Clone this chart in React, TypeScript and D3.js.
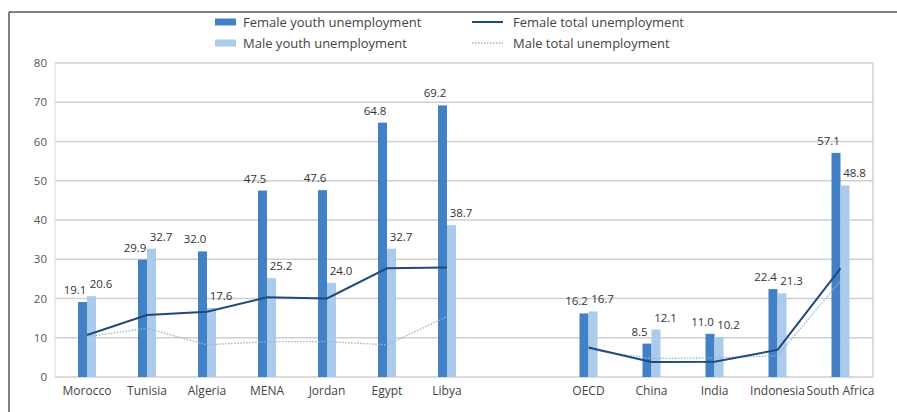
import React from "react";
import * as d3 from "d3";

const leftCats = ["Morocco", "Tunisia", "Algeria", "MENA", "Jordan", "Egypt", "Libya"];
const rightCats = ["OECD", "China", "India", "Indonesia", "South Africa"];

const femaleYouthLeft = [19.1, 29.9, 32.0, 47.5, 47.6, 64.8, 69.2];
const maleYouthLeft = [20.6, 32.7, 17.6, 25.2, 24.0, 32.7, 38.7];
const femaleTotalLeft = [10.7, 15.8, 16.6, 20.3, 20.0, 27.7, 27.9];
const maleTotalLeft = [10.3, 12.4, 8.2, 9.0, 9.0, 8.2, 15.4];

const femaleYouthRight = [16.2, 8.5, 11.0, 22.4, 57.1];
const maleYouthRight = [16.7, 12.1, 10.2, 21.3, 48.8];
const femaleTotalRight = [7.5, 3.8, 3.9, 6.9, 27.7];
const maleTotalRight = [7.0, 4.7, 4.9, 5.4, 24.5];

const yTicks = [0, 10, 20, 30, 40, 50, 60, 70, 80];

const legendItems = [
  { label: "Female youth unemployment", kind: "bar", color: "#4281c6" },
  { label: "Male youth unemployment", kind: "bar", color: "#abcbed" },
  { label: "Female total unemployment", kind: "line", color: "#1f4a7d" },
  { label: "Male total unemployment", kind: "dot", color: "#93b4d3" },
];

const FEMALE = "#4281c6";
const MALE = "#abcbed";
const FLINE = "#1f4a7d";
const MLINE = "#93b4d3";
const FONT = "'Open Sans', sans-serif";

export default function App() {
  const W = 897, H = 412;
  const plotL = 55, plotR = 873, plotT = 63, plotB = 377;
  const y = d3.scaleLinear().domain([0, 80]).range([plotB, plotT]);
  const xL = d3.scaleBand().domain(leftCats).range([57, 477]);
  const xR = d3.scaleBand().domain(rightCats).range([557, 872]);

  const groups = [
    { cats: leftCats, x: xL, fy: femaleYouthLeft, my: maleYouthLeft, ft: femaleTotalLeft, mt: maleTotalLeft },
    { cats: rightCats, x: xR, fy: femaleYouthRight, my: maleYouthRight, ft: femaleTotalRight, mt: maleTotalRight },
  ];
  const bw = 9;

  return (
    <svg width={W} height={H} style={{ position: "absolute", left: 0, top: 0, background: "#fff" }} fontFamily={FONT}>
      <rect x={0} y={0} width={W} height={H} fill="#fff" />
      <line x1={9} x2={W} y1={12} y2={12} stroke="#555" strokeWidth={1.5} />
      <line x1={9} x2={9} y1={12} y2={H} stroke="#555" strokeWidth={1.5} />

      {legendItems.map((it, i) => {
        const col = i < 2 ? 0 : 1;
        const row = i % 2;
        const lx = col === 0 ? 215 : 472;
        const ly = 22 + row * 21;
        return (
          <g key={it.label}>
            {it.kind === "bar" ? (
              <rect x={lx} y={ly - 3.5} width={21} height={7} fill={it.color} />
            ) : (
              <line x1={lx} x2={lx + 31} y1={ly} y2={ly} stroke={it.color}
                strokeWidth={it.kind === "line" ? 2 : 1.3}
                strokeDasharray={it.kind === "dot" ? "1.5,1.5" : undefined} />
            )}
            <text x={col === 0 ? 243 : 513} y={ly + 4.5} fontSize={13} fill="#444">{it.label}</text>
          </g>
        );
      })}

      {yTicks.map((t) => (
        <g key={t}>
          <line x1={plotL} x2={plotR} y1={y(t)} y2={y(t)} stroke="#cfcfcf" strokeWidth={1.4} />
          <text x={47} y={y(t) + 4} fontSize={11.5} textAnchor="end" fill="#555">{t}</text>
        </g>
      ))}
      <line x1={plotL} x2={plotL} y1={plotT} y2={plotB} stroke="#dcdcdc" strokeWidth={1} />
      <line x1={plotR} x2={plotR} y1={plotT} y2={plotB} stroke="#cfcfcf" strokeWidth={1.4} />

      {groups.map((g, gi) => {
        const cx = (c: string) => (g.x(c) as number) + g.x.bandwidth() / 2;
        const lineGen = d3.line<number>().x((_, i) => cx(g.cats[i])).y((v) => y(v));
        return (
          <g key={gi}>
            {g.cats.map((c, i) => (
              <g key={c}>
                <rect x={cx(c) - bw} y={y(g.fy[i])} width={bw} height={plotB - y(g.fy[i])} fill={FEMALE} />
                <rect x={cx(c)} y={y(g.my[i])} width={bw} height={plotB - y(g.my[i])} fill={MALE} />
                <text x={cx(c) - 12} y={y(g.fy[i]) - 8} fontSize={11.5} textAnchor="middle" fill="#333">
                  {g.fy[i].toFixed(1)}
                </text>
                <text x={cx(c) + 14} y={y(g.my[i]) - 8} fontSize={11.5} textAnchor="middle" fill="#333">
                  {g.my[i].toFixed(1)}
                </text>
                <text x={cx(c)} y={395} fontSize={12} textAnchor="middle" fill="#444">{c}</text>
              </g>
            ))}
            <path d={lineGen(g.mt) || ""} fill="none" stroke={MLINE} strokeWidth={1.3} strokeDasharray="1.5,1.5" />
            <path d={lineGen(g.ft) || ""} fill="none" stroke={FLINE} strokeWidth={2} />
          </g>
        );
      })}
    </svg>
  );
}
